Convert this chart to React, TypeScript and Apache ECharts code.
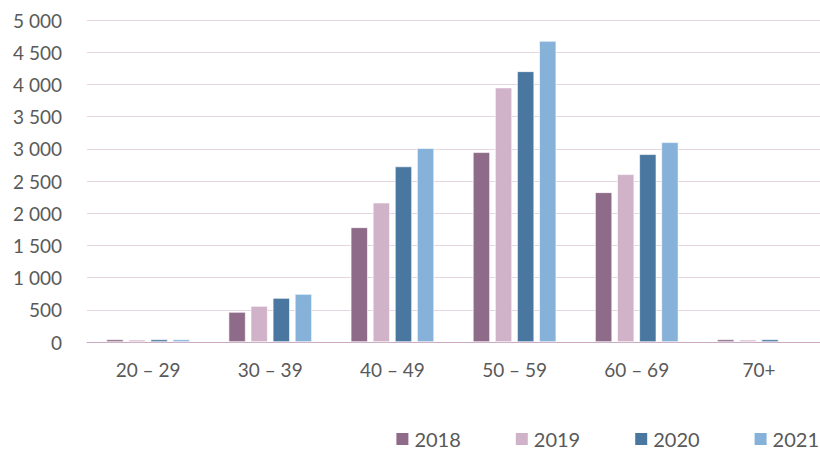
import React, { useEffect, useRef } from "react";
import * as echarts from "echarts";

const categories = ["20 – 29", "30 – 39", "40 – 49", "50 – 59", "60 – 69", "70+"];
const years = ["2018", "2019", "2020", "2021"];
const v2018 = [40, 466, 1780, 2946, 2324, 40];
const v2019 = [35, 559, 2163, 3950, 2604, 35];
const v2020 = [40, 683, 2725, 4203, 2915, 40];
const v2021: (number | null)[] = [40, 745, 3010, 4674, 3101, null];
const colors = ["#8E6B88", "#D0B3C9", "#4A77A0", "#86B1D9"];

export default function App() {
  const ref = useRef<HTMLDivElement>(null);
  useEffect(() => {
    document.body.style.margin = "0";
    if (!ref.current) return;
    const chart = echarts.init(ref.current, null, { renderer: "svg" });
    const font = "Lato, 'Noto Sans', sans-serif";
    const data = [v2018, v2019, v2020, v2021];
    chart.setOption({
      animation: false,
      textStyle: { fontFamily: font },
      grid: { left: 87, right: 0, top: 20, bottom: 108 },
      legend: {
        data: years,
        top: 429,
        right: 1,
        padding: 0,
        itemWidth: 14,
        itemHeight: 14,
        itemGap: 53,
        icon: "rect",
        textStyle: { fontSize: 20, lineHeight: 18, color: "#595959", fontFamily: font },
      },
      xAxis: {
        type: "category",
        data: categories,
        axisTick: { show: false },
        axisLine: { lineStyle: { color: "#C9A9C1", width: 1 } },
        axisLabel: { fontSize: 19, color: "#595959", margin: 18, fontFamily: font },
      },
      yAxis: {
        type: "value",
        min: 0,
        max: 5000,
        interval: 500,
        axisLine: { show: false },
        axisTick: { show: false },
        splitLine: { lineStyle: { color: "#E6D6E2", width: 1 } },
        axisLabel: {
          fontSize: 19,
          color: "#595959",
          margin: 25,
          fontFamily: font,
          formatter: (v: number) => String(v).replace(/\B(?=(\d{3})+(?!\d))/g, " "),
        },
      },
      series: years.map((y, i) => ({
        name: y,
        type: "bar",
        data: data[i],
        barWidth: 17,
        barGap: "30%",
        itemStyle: { color: colors[i], borderColor: "#ffffff", borderWidth: 0.6 },
      })),
    });
    return () => chart.dispose();
  }, []);
  return <div ref={ref} style={{ width: 820, height: 450 }} />;
}
